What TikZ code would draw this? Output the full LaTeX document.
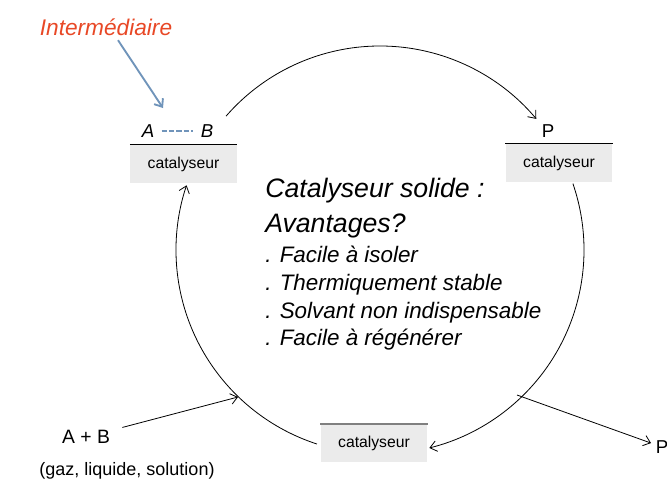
\documentclass[tikz,border=0pt]{standalone}
\usepackage{fontspec}
\setmainfont{Liberation Sans}
\usetikzlibrary{arrows.meta}
\definecolor{boxgray}{RGB}{235,235,235}
\definecolor{interred}{RGB}{232,72,38}
\definecolor{interblue}{RGB}{112,148,186}

\begin{document}
\begin{tikzpicture}[
        x=0.75pt,
        y=0.75pt,
        >={Straight Barb[length=5pt,width=8pt]},
        cata/.style={
            fill=boxgray,
            minimum width=80pt,
            minimum height=28.5pt,
            inner sep=0pt,
            font=\fontsize{11.8}{13}\selectfont
        },
        species/.style={font=\fontsize{14}{16}\selectfont},
        cycle/.style={draw, line width=0.6pt, ->},
        big/.style={font=\fontsize{20}{24}\selectfont\itshape, anchor=base west, inner sep=0pt},
        item/.style={font=\fontsize{16.8}{20}\selectfont\itshape, anchor=base west, inner sep=0pt}
    ]
    \useasboundingbox (0,0) rectangle (667,-482);

    % Catalyseur
    \node[cata] (cat1) at (183.5,-164) {catalyseur};
    \draw[line width=0.6pt] (cat1.north west) -- (cat1.north east);
    \node[cata] (cat2) at (559,-163) {catalyseur};
    \draw[line width=0.6pt] (cat2.north west) -- (cat2.north east);
    \node[cata] (cat3) at (374,-443) {catalyseur};
    \draw[gray, line width=1.2pt] (cat3.north west) -- (cat3.north east);

    % Adsorbed species
    \node[species, font=\fontsize{14}{16}\selectfont\itshape] (A) at (148,-131) {A};
    \node[species, font=\fontsize{14}{16}\selectfont\itshape] (B) at (207,-131) {B};
    \draw[interblue, line width=1.2pt, dash pattern=on 4pt off 1.5pt, shorten <=2pt, shorten >=2pt] (A) -- (B);
    \node[species] (P) at (548,-131) {P};

    % Intermediaire
    \node[font=\fontsize{17}{20}\selectfont\itshape, text=interred] (inter) at (106,-27) {Intermédiaire};
    \coordinate (ia) at (163,-108);
    \draw[->, interblue, line width=1.4pt] ([xshift=9pt]inter.south) -- (ia);

    % Cycle
    \coordinate (c) at (380,-250);
    \coordinate (t1) at ([shift={(139:153pt)}]c);
    \coordinate (r1) at ([shift={(19:153pt)}]c);
    \coordinate (l1) at ([shift={(252:153pt)}]c);
    \draw[cycle] (t1) arc[start angle=139, end angle=40, radius=153pt];
    \draw[cycle] (r1) arc[start angle=19, end angle=-76, radius=153pt];
    \draw[cycle] (l1) arc[start angle=252, end angle=161.5, radius=153pt];

    % Reactants in, product out
    \node[font=\fontsize{14.5}{17}\selectfont] (ab) at (86,-437) {A + B};
    \node[font=\fontsize{13.5}{16}\selectfont] (etat) at (127,-471) {(gaz, liquide, solution)};
    \coordinate (in1) at (238,-397);
    \draw[->, line width=0.6pt, shorten <=6pt] (ab) -- (in1);
    \coordinate (out1) at (517,-395);
    \node[species] (pout) at (662,-447) {P};
    \draw[->, line width=0.6pt] (out1) -- (pout);

    % Text
    \node[big] (titre) at (265,-197) {Catalyseur solide :};
    \node[big] (avant) at (265,-232) {Avantages?};
    \node[item] (av1) at (265,-262) {. Facile à isoler};
    \node[item] (av2) at (265,-290) {. Thermiquement stable};
    \node[item] (av3) at (265,-318) {. Solvant non indispensable};
    \node[item] (av4) at (265,-345) {. Facile à régénérer};
\end{tikzpicture}
\end{document}
